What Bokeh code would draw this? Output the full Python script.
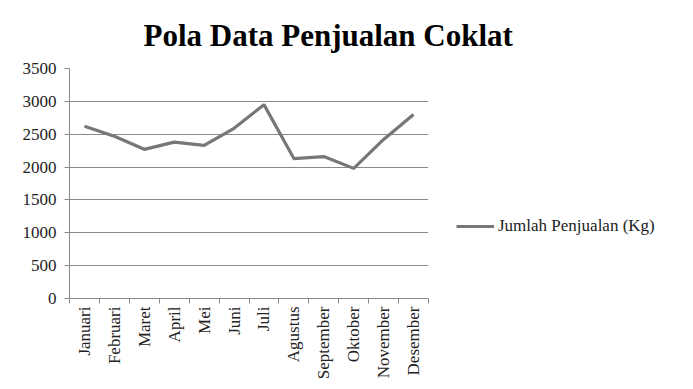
from bokeh.plotting import figure
from bokeh.models import Range1d, FixedTicker, Legend, LegendItem, ColumnDataSource
from bokeh.embed import file_html
from bokeh.resources import INLINE
import math

months = ["Januari", "Februari", "Maret", "April", "Mei", "Juni", "Juli",
          "Agustus", "September", "Oktober", "November", "Desember"]
sales = [2620, 2470, 2270, 2380, 2330, 2590, 2950, 2130, 2160, 1980, 2420, 2800]
y_ticks = [0, 500, 1000, 1500, 2000, 2500, 3000, 3500]
series_name = "Jumlah Penjualan (Kg)"
title_text = "Pola Data Penjualan Coklat"

xs = [i + 0.5 for i in range(len(months))]
src = ColumnDataSource(dict(x=xs, y=sales))

FONT = "Liberation Serif"

p = figure(frame_width=359, frame_height=230, output_backend="svg", toolbar_location=None,
           x_range=Range1d(0, len(months)), y_range=Range1d(0, 3500),
           min_border_left=69, min_border_right=265, min_border_top=68,
           min_border_bottom=91)
p.outline_line_color = None
p.background_fill_color = "white"
p.border_fill_color = "white"

p.title.text = title_text
p.title.text_font = FONT
p.title.text_font_size = "31px"
p.title.text_font_style = "bold"
p.title.text_color = "black"
p.title.align = "left"
p.title.vertical_align = "top"
p.title.offset = 74
p.title.standoff = 28

r = p.line("x", "y", source=src, line_color="#777777", line_width=3.2)

# x axis
p.xaxis.ticker = FixedTicker(ticks=xs, minor_ticks=list(range(len(months) + 1)))
p.xaxis.major_label_overrides = {x: m for x, m in zip(xs, months)}
p.xaxis.major_label_orientation = math.pi / 2
p.xaxis.major_tick_line_color = None
p.xaxis.minor_tick_line_color = "#888888"
p.xaxis.minor_tick_in = 0
p.xaxis.minor_tick_out = 5
p.xaxis.axis_line_color = "#888888"
p.xaxis.major_label_text_font = FONT
p.xaxis.major_label_text_font_size = "17px"
p.xaxis.major_label_text_color = "#222222"
p.xaxis.major_label_standoff = 2

# y axis
p.yaxis.ticker = FixedTicker(ticks=y_ticks)
p.yaxis.minor_tick_line_color = None
p.yaxis.major_tick_line_color = "#888888"
p.yaxis.major_tick_in = 0
p.yaxis.major_tick_out = 5
p.yaxis.axis_line_color = "#888888"
p.yaxis.major_label_text_font = FONT
p.yaxis.major_label_text_font_size = "17px"
p.yaxis.major_label_text_color = "#222222"
p.yaxis.major_label_standoff = 8

p.xgrid.grid_line_color = None
p.ygrid.grid_line_color = "#8a8a8a"
p.ygrid.grid_line_width = 1

legend = Legend(items=[LegendItem(label=series_name, renderers=[r])],
                location=(28, 62), orientation="vertical",
                padding=5, margin=0, border_line_color=None,
                background_fill_alpha=0, glyph_width=38, label_standoff=4,
                label_text_font=FONT, label_text_font_size="17px",
                label_text_color="#222222")
p.add_layout(legend, "right")

open("out.html", "w").write(file_html(p, INLINE))
